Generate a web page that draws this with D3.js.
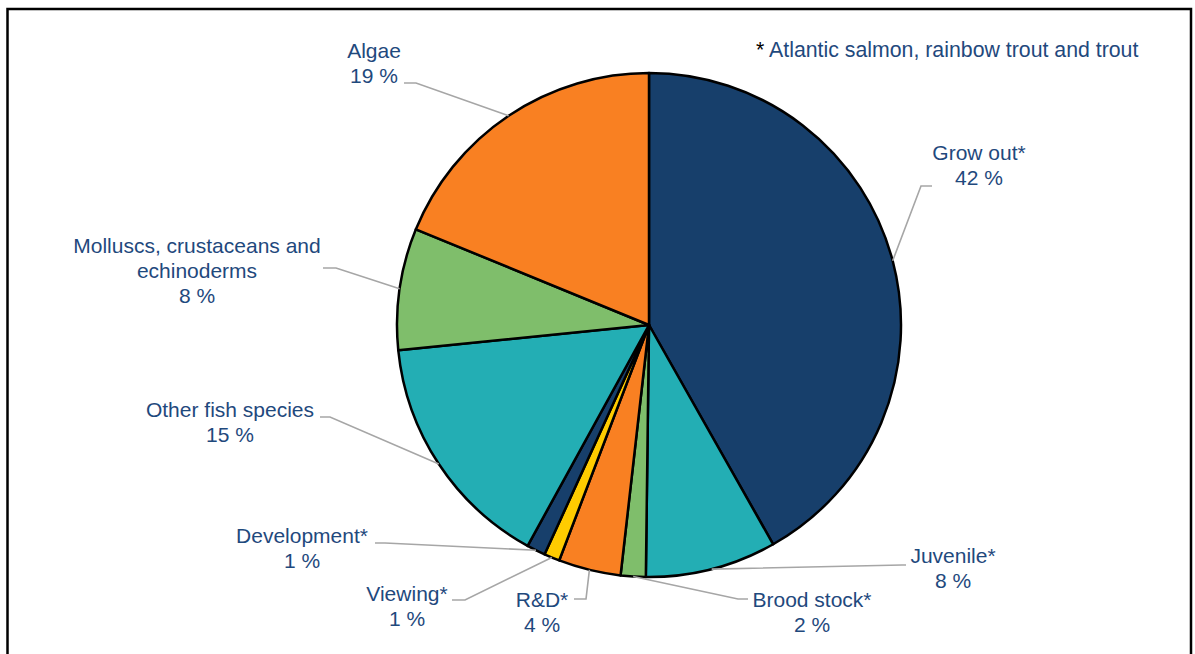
<!DOCTYPE html>
<html>
<head>
<meta charset="utf-8">
<script src="https://cdn.jsdelivr.net/npm/d3@7"></script>
<style>
  html, body { margin: 0; padding: 0; background: #fff; }
  svg { display: block; }
</style>
</head>
<body>
<div id="chart"></div>
<script>
// Shares by segment, clockwise from 12 o'clock
const categories = ['Grow out*', 'Juvenile*', 'Brood stock*', 'R&D*', 'Viewing*',
                    'Development*', 'Other fish species', 'Molluscs, crustaceans and echinoderms', 'Algae'];
const values = [41.8, 8.4, 1.6, 4.0, 1.0, 1.2, 15.4, 7.8, 18.8];
const colors = ['#173f6b', '#23aeb4', '#7fbe6b', '#f98022', '#ffcc00',
                '#173f6b', '#23aeb4', '#7fbe6b', '#f98022'];
// label text lines (name split for wrapping)
const labelLines = [['Grow out*'], ['Juvenile*'], ['Brood stock*'], ['R&D*'], ['Viewing*'],
                    ['Development*'], ['Other fish species'], ['Molluscs, crustaceans and', 'echinoderms'], ['Algae']];
const note = 'Atlantic salmon, rainbow trout and trout';

// layout: label centre x, first baseline y, leader elbow [x,y] and leader end x
const labelLayout = [
  { x: 979, y: 160, elbow: [921, 186], end: 932 },
  { x: 953, y: 563, elbow: [902, 565], end: 906 },
  { x: 812, y: 607, elbow: [738, 599], end: 748 },
  { x: 542, y: 607, elbow: [586, 599], end: 574 },
  { x: 407, y: 601, elbow: [465, 600], end: 452 },
  { x: 302, y: 543, elbow: [385, 543], end: 375 },
  { x: 230, y: 417, elbow: [330, 417], end: 320 },
  { x: 197, y: 253, elbow: [336, 268], end: 323 },
  { x: 374, y: 58,  elbow: [416, 83],  end: 404 }
];

const W = 1195, H = 654;
const cx = 649, cy = 325, R = 252;
const textColor = '#1f497d';
const font = "'Liberation Sans', Arial, sans-serif";
const fs = 21, lh = 25;

const svg = d3.select('#chart').append('svg')
  .attr('width', W).attr('height', H);

// frame
svg.append('rect')
  .attr('x', 7.5).attr('y', 9)
  .attr('width', 1183.5).attr('height', 700)
  .attr('fill', 'none')
  .attr('stroke', '#000')
  .attr('stroke-width', 2.5);

const pie = d3.pie().sort(null).value(d => d);
const arcs = pie(values);
const arc = d3.arc().innerRadius(0).outerRadius(R);

const g = svg.append('g').attr('transform', `translate(${cx},${cy})`);

// leader lines first so slices draw over the start
const leaders = svg.append('g');
arcs.forEach((d, i) => {
  const a = (d.startAngle + d.endAngle) / 2;
  const sx = cx + R * Math.sin(a), sy = cy - R * Math.cos(a);
  const L = labelLayout[i];
  leaders.append('polyline')
    .attr('points', `${sx},${sy} ${L.elbow[0]},${L.elbow[1]} ${L.end},${L.elbow[1]}`)
    .attr('fill', 'none')
    .attr('stroke', '#a6a6a6')
    .attr('stroke-width', 1.6);
});

g.selectAll('path')
  .data(arcs)
  .join('path')
  .attr('d', arc)
  .attr('fill', (d, i) => colors[i])
  .attr('stroke', '#000')
  .attr('stroke-width', 2.5)
  .attr('stroke-linejoin', 'round');

// labels
const labels = svg.append('g')
  .attr('font-family', font)
  .attr('font-size', fs)
  .attr('fill', textColor)
  .attr('text-anchor', 'middle');

arcs.forEach((d, i) => {
  const L = labelLayout[i];
  const lines = labelLines[i].concat([Math.round(values[i]) + ' %']);
  const t = labels.append('text').attr('x', L.x).attr('y', L.y);
  lines.forEach((s, k) => {
    t.append('tspan').attr('x', L.x).attr('dy', k === 0 ? 0 : lh).text(s);
  });
});

// note
const n = svg.append('text')
  .attr('x', 756).attr('y', 57)
  .attr('font-family', font)
  .attr('font-size', 21.3);
n.append('tspan').attr('fill', '#000').text('* ');
n.append('tspan').attr('fill', textColor).text(note);
</script>
</body>
</html>
